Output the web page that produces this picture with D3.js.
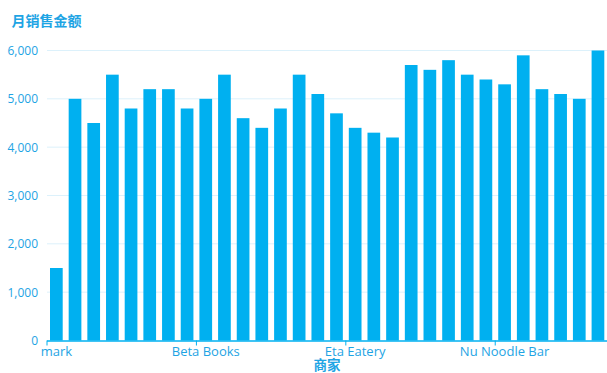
<!DOCTYPE html>
<html>
<head>
<meta charset="utf-8">
<script src="https://cdn.jsdelivr.net/npm/d3@7"></script>
<style>
  html, body { margin: 0; padding: 0; background: #ffffff; }
  svg { display: block; }
</style>
</head>
<body>
<svg id="chart" width="607" height="373"></svg>
<script>
// Merchants, sorted by name
const merchants = [
  "mark", "Alpha Apparel", "Alpha Bistro", "Alpha Cafe", "Alpha Deli",
  "Alpha Electronics", "Alpha Florist", "Alpha Grocery", "Beta Books", "Beta Burgers",
  "Chi Cafe", "Delta Deli", "Delta Diner", "Epsilon Eats", "Epsilon Electronics",
  "Epsilon Optics", "Eta Eatery", "Gamma Grill", "Iota Ice Cream", "Kappa Kitchen",
  "Lambda Lounge", "Mu Market", "Mu Music", "Nu Nails", "Nu Noodle Bar",
  "Omega Optics", "Pi Pizza", "Rho Records", "Sigma Sushi", "Theta Tea"
];

// Monthly sales per merchant
const monthlySales = [
  1500, 5000, 4500, 5500, 4800, 5200, 5200, 4800, 5000, 5500,
  4600, 4400, 4800, 5500, 5100, 4700, 4400, 4300, 4200, 5700,
  5600, 5800, 5500, 5400, 5300, 5900, 5200, 5100, 5000, 6000
];

// Value-axis ticks and the merchants whose names are shown
const yTicks = [0, 1000, 2000, 3000, 4000, 5000, 6000];
const labelledMerchants = ["mark", "Beta Books", "Eta Eatery", "Nu Noodle Bar"];

const yTitle = "月销售金额";
const xTitle = "商家";

const barColor = "#00b0f0";
const textColor = "#1ea4e4";
const gridColor = "#dcf1fb";

const svg = d3.select("#chart");

const x = d3.scaleBand()
  .domain(merchants)
  .range([50, 604.3])
  .paddingInner(0.32)
  .paddingOuter(0);

const y = d3.scaleLinear()
  .domain([0, 6000])
  .range([340.5, 50.5]);

const gap = x.step() - x.bandwidth();
const plotLeft = x(merchants[0]) - gap / 2;
const plotRight = 607;

// Horizontal grid lines
svg.append("g")
  .selectAll("line")
  .data(yTicks.filter(d => d > 0))
  .join("line")
  .attr("x1", plotLeft)
  .attr("x2", plotRight)
  .attr("y1", d => y(d))
  .attr("y2", d => y(d))
  .attr("stroke", gridColor)
  .attr("stroke-width", 1);

// Bars
svg.append("g")
  .selectAll("rect")
  .data(merchants)
  .join("rect")
  .attr("x", (d) => x(d))
  .attr("width", x.bandwidth())
  .attr("y", (d, i) => y(monthlySales[i]))
  .attr("height", (d, i) => y(0) - y(monthlySales[i]))
  .attr("fill", barColor);

// Value axis labels
const yAxis = d3.axisLeft(y)
  .tickValues(yTicks)
  .tickFormat(d3.format(","))
  .tickSize(0)
  .tickPadding(0);

svg.append("g")
  .attr("transform", "translate(38,0)")
  .call(yAxis)
  .call(g => g.select(".domain").remove())
  .call(g => g.selectAll("text")
    .attr("fill", textColor)
    .attr("font-family", "'Open Sans', 'Noto Sans', sans-serif")
    .attr("font-size", 12));

// Category axis: baseline, ticks at band boundaries, labels at band centres
const xAxisG = svg.append("g");

xAxisG.append("line")
  .attr("x1", plotLeft)
  .attr("x2", plotRight)
  .attr("y1", y(0) + 0.5)
  .attr("y2", y(0) + 0.5)
  .attr("stroke", barColor)
  .attr("stroke-width", 1.5);

xAxisG.selectAll("line.tick")
  .data(labelledMerchants)
  .join("line")
  .attr("class", "tick")
  .attr("x1", d => x(d) - gap / 2)
  .attr("x2", d => x(d) - gap / 2)
  .attr("y1", y(0))
  .attr("y2", y(0) + 5)
  .attr("stroke", barColor)
  .attr("stroke-width", 1);

xAxisG.selectAll("text")
  .data(labelledMerchants)
  .join("text")
  .attr("x", d => x(d) - gap / 2 + x.step() / 2)
  .attr("y", 355.5)
  .attr("text-anchor", "middle")
  .attr("fill", textColor)
  .attr("font-family", "'Open Sans', 'Noto Sans', sans-serif")
  .attr("font-size", 13)
  .text(d => d);

// Axis titles
svg.append("text")
  .attr("x", 11.5)
  .attr("y", 25.5)
  .attr("fill", textColor)
  .attr("font-family", "'Noto Sans CJK SC', sans-serif")
  .attr("font-size", 14)
  .attr("font-weight", "bold")
  .text(yTitle);

svg.append("text")
  .attr("x", (plotLeft + plotRight) / 2)
  .attr("y", 369.5)
  .attr("text-anchor", "middle")
  .attr("fill", textColor)
  .attr("font-family", "'Noto Sans CJK SC', sans-serif")
  .attr("font-size", 13.5)
  .attr("font-weight", "bold")
  .text(xTitle);
</script>
</body>
</html>
